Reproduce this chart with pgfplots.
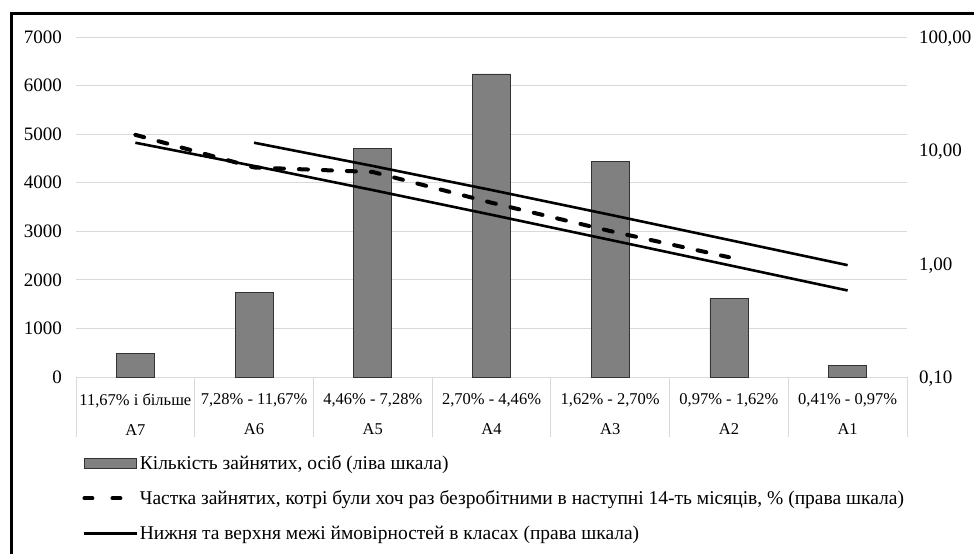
\documentclass[border=0pt]{standalone}
\usepackage{pgfplots}
\pgfplotsset{compat=1.18}
\usepackage{fontspec}
\setmainfont{Liberation Serif}
\definecolor{barfill}{HTML}{808080}
\definecolor{bardraw}{HTML}{333333}
\definecolor{gridgray}{HTML}{D9D9D9}
\newcommand{\tickfont}{\fontsize{19bp}{22bp}\selectfont}
\newcommand{\catfont}{\fontsize{16.5bp}{30bp}\selectfont}
\newcommand{\legfont}{\fontsize{19.5bp}{22bp}\selectfont}
\begin{document}
\begin{tikzpicture}
\begin{axis}[
  at={(76bp,177bp)}, anchor=south west,
  scale only axis, width=831bp, height=340bp,
  xmin=-0.5, xmax=6.5, ymin=0, ymax=7000,
  ytick={0,1000,...,7000},
  ymajorgrids, grid style={draw=gridgray, line width=0.9bp},
  axis line style={draw=none},
  major tick style={draw=none},
  xtick={0,...,6},
  xticklabels={{11,67\% і більше\\A7},{7,28\% - 11,67\%\\A6},{4,46\% - 7,28\%\\A5},{2,70\% - 4,46\%\\A4},{1,62\% - 2,70\%\\A3},{0,97\% - 1,62\%\\A2},{0,41\% - 0,97\%\\A1}},
  xticklabel style={font=\catfont, align=center, anchor=north, inner sep=0pt, yshift=-16bp},
  yticklabel style={font=\tickfont, anchor=east, inner sep=0pt, xshift=-14bp},
  /pgf/number format/1000 sep={},
  /pgf/number format/assume math mode=true,
  clip=false,
]
\addplot[ybar, bar width=38bp, fill=barfill, draw=bardraw, line width=0.8bp]
  coordinates {(0,480) (1,1740) (2,4700) (3,6240) (4,4430) (5,1610) (6,240)};
\pgfplotsinvokeforeach{-0.5,0.5,1.5,2.5,3.5,4.5,5.5,6.5}{
  \draw[gridgray, line width=0.9bp] (axis cs:#1,0) -- ([yshift=-60bp]axis cs:#1,0);
}
\end{axis}
\begin{axis}[
  at={(76bp,177bp)}, anchor=south west,
  scale only axis, width=831bp, height=340bp,
  xmin=-0.5, xmax=6.5, ymode=log, ymin=0.1, ymax=100,
  hide x axis,
  axis line style={draw=none},
  major tick style={draw=none}, minor tick style={draw=none},
  ytick={0.1,1,10,100},
  yticklabels={{0,10},{1,00},{10,00},{100,00}},
  yticklabel pos=right,
  yticklabel style={font=\tickfont, anchor=west, inner sep=0pt, xshift=12bp, yshift=-1.5bp},
  legend style={draw=none, fill=none, inner sep=0pt, font=\legfont,
    at={(axis description cs:0.0075,-0.228)}, anchor=north west,
    row sep=17.5bp, nodes={inner sep=1bp}},
  legend cell align=left,
]
\addlegendimage{legend image code/.code={\draw[fill=barfill, draw=bardraw, line width=0.8bp] (0bp,-5bp) rectangle (52bp,5bp);}}
\addlegendentry{Кількість зайнятих, осіб (ліва шкала)}
\addplot[black, line width=4bp, line cap=round, dash pattern=on 9bp off 15bp,
  legend image code/.code={\draw[black, line width=4bp, line cap=round, dash pattern=on 8bp off 20bp] (0bp,0bp) -- (40bp,0bp);}]
  coordinates {(0,13.7) (1,7.06) (2,6.44) (3,3.45) (4,1.94) (5,1.14)};
\addlegendentry{Частка зайнятих, котрі були хоч раз безробітними в наступні 14-ть місяців, \% (права шкала)}
\addplot[black, line width=2.6bp,
  legend image code/.code={\draw[black, line width=2.8bp] (0bp,0bp) -- (53bp,0bp);}]
  coordinates {(0,11.67) (1,7.28) (2,4.46) (3,2.70) (4,1.62) (5,0.97) (6,0.58)};
\addlegendentry{Нижня та верхня межі ймовірностей в класах (права шкала)}
\addplot[black, line width=2.6bp, forget plot]
  coordinates {(1,11.67) (2,7.28) (3,4.46) (4,2.70) (5,1.62) (6,0.97)};
\end{axis}
\draw[line width=3bp] (11bp,-20bp) rectangle (1000bp,540bp);
\pgfresetboundingbox
\useasboundingbox (0,0) rectangle (974bp,554bp);
\end{tikzpicture}
\end{document}
